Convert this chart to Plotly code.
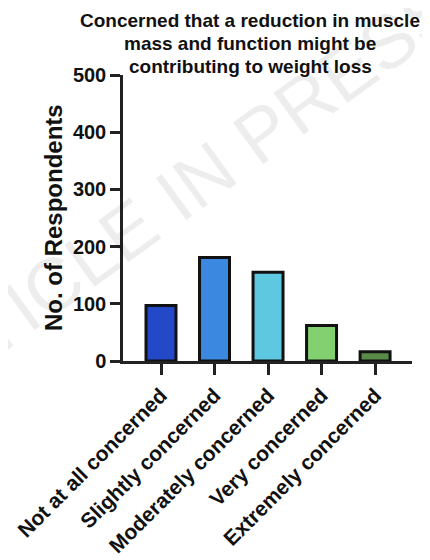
import plotly.graph_objects as go

categories = ["Not at all concerned", "Slightly concerned", "Moderately concerned",
              "Very concerned", "Extremely concerned"]
respondents = [97, 181, 155, 62, 16]
bar_colors = ["#2449C8", "#3A88DF", "#5EC8E0", "#82D070", "#5A8A48"]
y_ticks = [0, 100, 200, 300, 400, 500]
title_lines = ["Concerned that a reduction in muscle",
               "mass and function might be",
               "contributing to weight loss"]
y_title = "No. of Respondents"

FONT = "Liberation Sans, Arial, sans-serif"
INK = "#111111"

# page body has an 8px default margin; figure is sized to fill the rest
W, H = 422, 552
ML, MR, MT, MB = 115, 18, 67, 199
PW = W - ML - MR
PH = H - MT - MB


def px_to_paper_x(px):
    return (px - 8 - ML) / PW


def px_to_paper_y(py):
    return (H - MB - (py - 8)) / PH


fig = go.Figure()
fig.add_trace(go.Bar(
    x=list(range(len(categories))),
    y=respondents,
    width=0.56,
    marker=dict(color=bar_colors, line=dict(color=INK, width=3)),
    showlegend=False,
))

annotations = []
for i, (line, py) in enumerate(zip(title_lines, [20, 43, 66])):
    annotations.append(dict(
        text="<b>" + line + "</b>", x=px_to_paper_x(250), xref="paper", xanchor="center",
        y=px_to_paper_y(py), yref="paper", yanchor="middle", showarrow=False,
        font=dict(size=19, family=FONT, color=INK)))
annotations.append(dict(
    text="<b>" + y_title + "</b>", textangle=-90,
    x=px_to_paper_x(53), xref="paper", xanchor="center",
    y=0.5, yref="paper", yanchor="middle", showarrow=False,
    font=dict(size=24, family=FONT, color=INK)))
annotations.append(dict(
    text="ARTICLE IN PRESS", textangle=-36,
    x=px_to_paper_x(171), xref="paper", xanchor="center",
    y=px_to_paper_y(199), yref="paper", yanchor="middle", showarrow=False,
    font=dict(size=75, family=FONT, color="rgba(0,0,0,0.07)")))

fig.update_layout(
    width=W, height=H,
    margin=dict(l=ML, r=MR, t=MT, b=MB, autoexpand=False),
    paper_bgcolor="white", plot_bgcolor="white",
    font=dict(family=FONT, color=INK),
    xaxis=dict(
        range=[-0.71, 4.69],
        tickmode="array", tickvals=list(range(len(categories))),
        ticktext=["<b>" + c + "</b>" for c in categories],
        tickangle=-45,
        tickfont=dict(size=21, family=FONT, color=INK),
        showline=True, linecolor="#222222", linewidth=2.5,
        ticks="outside", ticklen=11, tickwidth=2.5, tickcolor="#222222",
        showgrid=False, zeroline=False, fixedrange=True,
    ),
    yaxis=dict(
        range=[0, 500],
        tickmode="array", tickvals=y_ticks,
        ticktext=["<b>%d</b>" % v for v in y_ticks],
        tickfont=dict(size=20, family=FONT, color=INK),
        showline=True, linecolor="#222222", linewidth=2.5,
        ticks="outside", ticklen=10, tickwidth=2.5, tickcolor="#222222",
        showgrid=False, zeroline=False, fixedrange=True,
    ),
    annotations=annotations,
)

fig.write_html("out.html")
